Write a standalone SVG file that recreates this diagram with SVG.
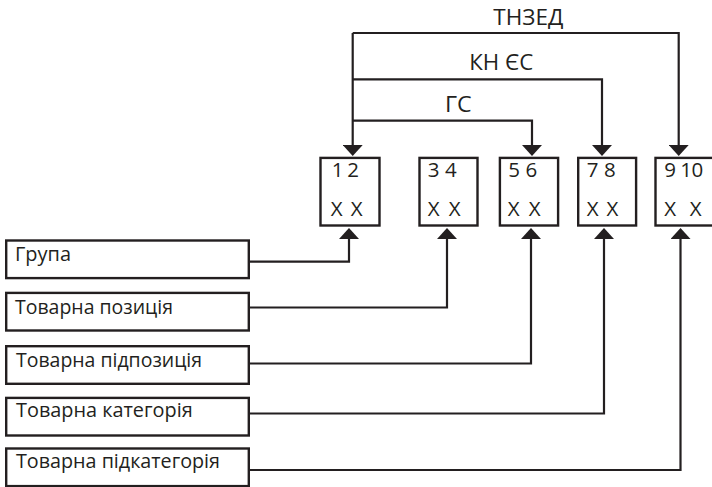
<svg xmlns="http://www.w3.org/2000/svg" width="712" height="487" viewBox="0 0 712 487">
<style>
.box{fill:#fff;stroke:#231f20;stroke-width:2.4}
.ln{fill:none;stroke:#231f20;stroke-width:2.2}
.t{font-family:"Open Sans","Noto Sans","Liberation Sans",sans-serif;font-size:20.5px;fill:#231f20}
.d{font-family:"Open Sans","Noto Sans","Liberation Sans",sans-serif;font-size:20.5px;fill:#231f20}
.h{font-family:"Open Sans","Noto Sans","Liberation Sans",sans-serif;font-size:21.5px;fill:#231f20}
</style>
<defs>
<marker id="ah" markerUnits="userSpaceOnUse" markerWidth="11" markerHeight="20" viewBox="0 0 11 20" refX="0" refY="10" orient="auto">
<path d="M0,0 L11,10 L0,20 z" fill="#231f20"/>
</marker>
</defs>
<g id="labels-top">
<text class="h" x="493.3" y="25" textLength="70" lengthAdjust="spacingAndGlyphs">ТНЗЕД</text>
<text class="h" x="469.3" y="70" textLength="64" lengthAdjust="spacingAndGlyphs">КН ЄС</text>
<text class="h" x="445" y="111.7" textLength="26.7" lengthAdjust="spacingAndGlyphs">ГС</text>
</g>
<g id="digit1">
<rect class="box" x="320.5" y="157.9" width="59" height="67.6"/>
<text class="d" x="331.7" y="177" textLength="27.3">1 2</text>
<text class="d" x="330.7" y="216" textLength="32">X X</text>
</g>
<g id="digit2">
<rect class="box" x="419.5" y="157.9" width="58" height="67.6"/>
<text class="d" x="427.7" y="177" textLength="29">3 4</text>
<text class="d" x="427.7" y="216" textLength="33">X X</text>
</g>
<g id="digit3">
<rect class="box" x="499.9" y="157.9" width="58.2" height="67.6"/>
<text class="d" x="508.3" y="177" textLength="29">5 6</text>
<text class="d" x="507.7" y="216" textLength="33">X X</text>
</g>
<g id="digit4">
<rect class="box" x="578.2" y="157.9" width="57.9" height="67.6"/>
<text class="d" x="586.7" y="177" textLength="29">7 8</text>
<text class="d" x="586.7" y="216" textLength="31.6">X X</text>
</g>
<g id="digit5">
<rect class="box" x="655.5" y="157.9" width="60" height="67.6"/>
<text class="d" x="664.3" y="177" textLength="39">9 10</text>
<text class="d" x="664.3" y="216" textLength="37.4">X  X</text>
</g>
<g id="grupa">
<rect class="box" x="6.2" y="240.5" width="242.6" height="37.6"/>
<text class="t" x="15" y="260.7" textLength="56" lengthAdjust="spacingAndGlyphs">Група</text>
</g>
<g id="pozytsiia">
<rect class="box" x="6.2" y="292.9" width="242.6" height="37.6"/>
<text class="t" x="15" y="314.3" textLength="158" lengthAdjust="spacingAndGlyphs">Товарна позиція</text>
</g>
<g id="pidpozytsiia">
<rect class="box" x="6.2" y="346.2" width="242.6" height="37.6"/>
<text class="t" x="16" y="366.7" textLength="186" lengthAdjust="spacingAndGlyphs">Товарна підпозиція</text>
</g>
<g id="katehoriia">
<rect class="box" x="6.2" y="397.9" width="242.6" height="37.6"/>
<text class="t" x="16" y="417.3" textLength="176.7" lengthAdjust="spacingAndGlyphs">Товарна категорія</text>
</g>
<g id="pidkatehoriia">
<rect class="box" x="6.2" y="448.5" width="242.6" height="37.6"/>
<text class="t" x="16" y="468" textLength="204" lengthAdjust="spacingAndGlyphs">Товарна підкатегорія</text>
</g>
<g id="connectors">
<path class="ln" d="M352.7,33 L352.7,145" marker-end="url(#ah)"/>
<path class="ln" d="M352.7,33 L678.7,33 L678.7,145" marker-end="url(#ah)"/>
<path class="ln" d="M352.7,79.3 L602,79.3 L602,145" marker-end="url(#ah)"/>
<path class="ln" d="M352.7,120.7 L532,120.7 L532,145" marker-end="url(#ah)"/>
<path class="ln" d="M250,261.7 L349,261.7 L349,239" marker-end="url(#ah)"/>
<path class="ln" d="M250,307.5 L447,307.5 L447,239" marker-end="url(#ah)"/>
<path class="ln" d="M250,363.5 L531,363.5 L531,239" marker-end="url(#ah)"/>
<path class="ln" d="M250,413.5 L604,413.5 L604,239" marker-end="url(#ah)"/>
<path class="ln" d="M250,470 L680.5,470 L680.5,239" marker-end="url(#ah)"/>
</g>
</svg>
